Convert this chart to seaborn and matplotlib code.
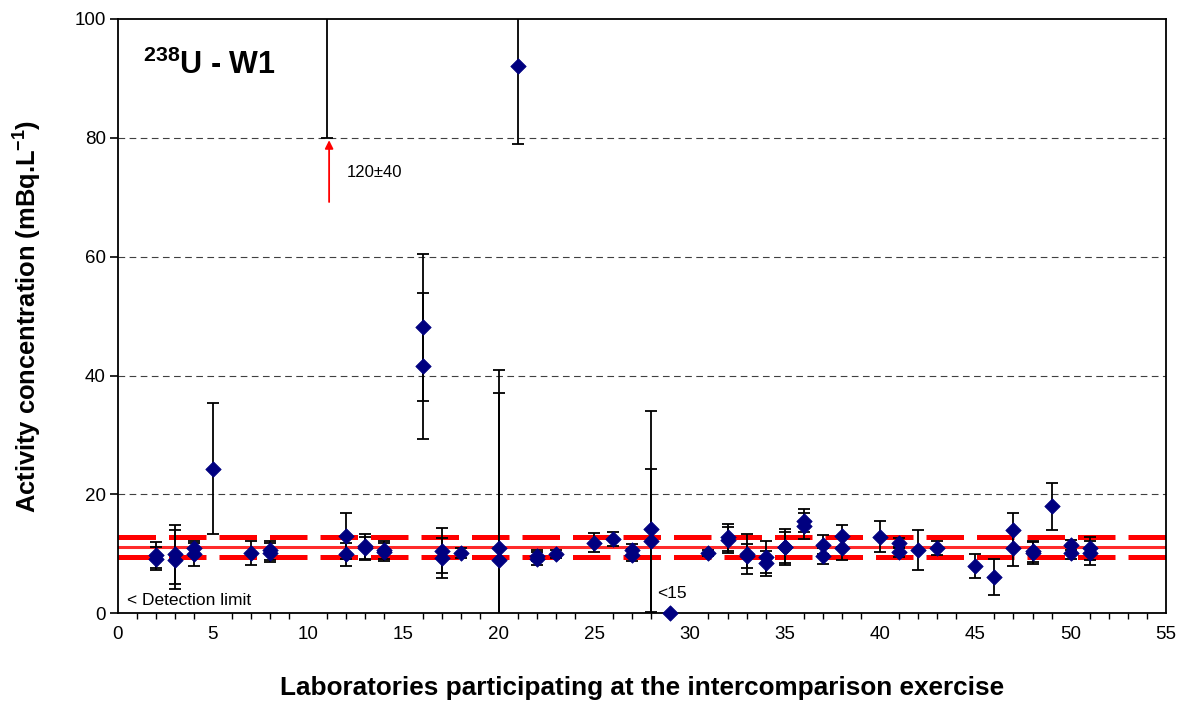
import matplotlib
matplotlib.use("Agg")
import matplotlib.pyplot as plt
from matplotlib.ticker import MultipleLocator
import numpy as np
import pandas as pd
import seaborn as sns

# Laboratory results (activity concentration, mBq/L) with expanded uncertainties
labs = [2, 2, 3, 3, 4, 4, 5, 7, 8, 8, 11, 12, 12, 13, 13, 14, 14, 16, 16, 17, 17,
        18, 20, 20, 21, 22, 22, 23, 25, 26, 27, 27, 28, 28, 31, 32, 32, 33, 33,
        34, 34, 35, 35, 36, 36, 37, 37, 38, 38, 40, 41, 41, 42, 43, 45, 46, 47,
        47, 48, 48, 49, 50, 50, 51, 51]
values = [9.8, 9.2, 9.9, 9.0, 10.9, 9.9, 24.3, 10.2, 10.6, 10.2, 120.0, 13.0, 9.9,
          11.3, 10.9, 10.6, 10.3, 48.1, 41.6, 10.5, 9.3, 10.1, 11.0, 9.0, 92.0,
          9.7, 9.2, 10.0, 11.9, 12.5, 10.7, 9.8, 14.1, 12.2, 10.1, 12.8, 12.3,
          10.0, 9.6, 9.4, 8.4, 11.2, 11.1, 15.6, 14.7, 11.5, 9.7, 13.0, 11.0,
          12.9, 11.8, 10.3, 10.6, 11.0, 7.9, 6.1, 13.95, 10.9, 10.4, 10.2, 18.0,
          11.5, 10.2, 10.9, 10.1]
uncertainties = [2.2, 2.0, 5.0, 5.0, 1.3, 1.9, 11.0, 2.0, 1.6, 1.6, 40.0, 3.9, 2.0,
                 2.1, 1.9, 1.5, 1.5, 12.3, 12.3, 3.8, 3.3, 0.8, 30.0, 28.0, 13.0,
                 0.9, 1.1, 0.7, 1.6, 1.2, 0.9, 1.0, 20.0, 12.0, 0.5, 2.3, 2.2,
                 3.4, 2.0, 2.7, 2.1, 3.0, 2.6, 2.0, 2.2, 1.6, 1.35, 1.9, 2.0,
                 2.6, 0.8, 0.8, 3.4, 1.2, 2.0, 3.0, 2.95, 3.0, 1.8, 1.85, 4.0,
                 0.9, 1.0, 2.0, 2.05]

# Result reported below detection limit
dl_labs = [29]
dl_values = [0.0]
dl_text = "<15"

# Lab 11 value lies off scale
offscale_lab = 11
offscale_text = "120\u00b140"

# Reference value and its uncertainty band
ref_value = 11.1
ref_low = 9.45
ref_high = 12.8

x_ticks = [0, 5, 10, 15, 20, 25, 30, 35, 40, 45, 50, 55]
y_ticks = [0, 20, 40, 60, 80, 100]

sns.set_theme(style="white")
plt.rcParams["font.family"] = ["Liberation Sans", "DejaVu Sans"]
plt.rcParams["mathtext.fontset"] = "custom"
plt.rcParams["mathtext.rm"] = "Liberation Sans"
plt.rcParams["mathtext.bf"] = "Liberation Sans:bold"
plt.rcParams["text.color"] = "black"
plt.rcParams["axes.labelcolor"] = "black"
plt.rcParams["xtick.color"] = "black"
plt.rcParams["ytick.color"] = "black"

df = pd.DataFrame({"lab": labs, "value": values, "unc": uncertainties})
df_dl = pd.DataFrame({"lab": dl_labs, "value": dl_values})

fig = plt.figure(figsize=(11.87, 7.02), dpi=100)
ax = fig.add_axes([0.099, 0.1264, 0.8833, 0.8466])

# Reference lines
ax.axhline(ref_value, color="#ff2a2a", lw=2.2, zorder=2)
for lvl in (ref_low, ref_high):
    ax.axhline(lvl, color="#ff0000", lw=3.6, dashes=(7.5, 2.6), zorder=2)

# Horizontal gridlines
for yv in y_ticks[1:-1]:
    ax.axhline(yv, color="#404040", lw=0.8, dashes=(6, 4), zorder=1)

# Error bars
ax.errorbar(df["lab"], df["value"], yerr=df["unc"], fmt="none",
            ecolor="black", elinewidth=1.3, capsize=4.5, capthick=1.3, zorder=3)

# Measured values
sns.scatterplot(data=df, x="lab", y="value", ax=ax, marker="D", s=62,
                color="#000080", edgecolor="#000080", linewidth=0.5, zorder=4)
sns.scatterplot(data=df_dl, x="lab", y="value", ax=ax, marker="D", s=62,
                color="#000080", edgecolor="#000080", linewidth=0.5, zorder=5,
                clip_on=False)

ax.set_xlim(0, 55)
ax.set_ylim(0, 100)
ax.set_xticks(x_ticks)
ax.set_yticks(y_ticks)
ax.xaxis.set_minor_locator(MultipleLocator(1))
ax.tick_params(axis="x", which="major", direction="inout", length=10, width=1.2,
               labelsize=13.5, pad=4)
ax.tick_params(axis="x", which="minor", direction="out", length=4, width=1.0,
               bottom=True)
ax.tick_params(axis="y", which="major", direction="out", length=5.5, width=1.2,
               labelsize=13.5, pad=3, left=True)
for sp in ax.spines.values():
    sp.set_color("black")
    sp.set_linewidth(1.3)

ax.set_xlabel("Laboratories participating at the intercomparison exercise",
              fontsize=18.8, fontweight="bold", labelpad=24)
ax.set_ylabel(r"Activity concentration (mBq.L$\mathbf{^{-1}}$)",
              fontsize=18.4, fontweight="bold", labelpad=22)

# Annotations
ax.text(1.35, 90.8, r"$\mathbf{^{238}}$U - W1", fontsize=22, fontweight="bold",
        va="baseline", ha="left")
ax.text(0.5, 1.4, "< Detection limit", fontsize=12.5, va="baseline", ha="left")
ax.text(28.3, 2.6, dl_text, fontsize=12.5, va="baseline", ha="left")
ax.text(12.05, 73.4, offscale_text, fontsize=12, va="baseline", ha="left")
ax.annotate("", xy=(offscale_lab + 0.1, 79.6), xytext=(offscale_lab + 0.1, 69.2),
            arrowprops=dict(arrowstyle="-|>", color="red", lw=1.3,
                            mutation_scale=12, shrinkA=0, shrinkB=0))

fig.savefig("out.png", dpi=100)
